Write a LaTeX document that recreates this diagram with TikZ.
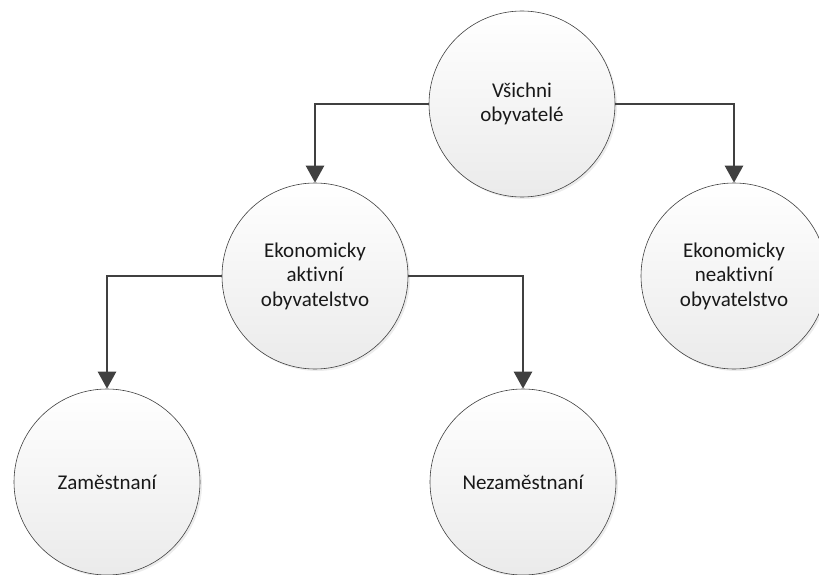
\documentclass[tikz,border=0pt]{standalone}
\usepackage{fontspec}
\setmainfont{Carlito}[Ligatures={NoCommon}]
\usetikzlibrary{arrows.meta,shadows}
\begin{document}
\begin{tikzpicture}[x=1pt,y=-1pt,
  circ/.style={circle, draw=black!75, line width=0.6pt, minimum size=186pt, inner sep=0pt,
    top color=white, bottom color=black!8, align=center, text=black!90,
    font=\fontsize{21}{24.5}\selectfont,
    drop shadow={opacity=0.15, shadow xshift=2pt, shadow yshift=-2pt}},
  conn/.style={draw=black!75, line width=2.5pt, -{Triangle[length=17pt,width=18pt]}}]
\useasboundingbox (0,0) rectangle (819,575);
\node[circ] (all) at (522,104) {Všichni\\obyvatelé};
\node[circ] (act) at (315,276) {Ekonomicky\\aktivní\\obyvatelstvo};
\node[circ] (inact) at (734,276) {Ekonomicky\\neaktivní\\obyvatelstvo};
\node[circ] (emp) at (107,482) {Zaměstnaní};
\node[circ] (unemp) at (523,482) {Nezaměstnaní};
\draw[conn] (all.west) -| (act.north);
\draw[conn] (all.east) -| (inact.north);
\draw[conn] (act.west) -| (emp.north);
\draw[conn] (act.east) -| (unemp.north);
\end{tikzpicture}
\end{document}
